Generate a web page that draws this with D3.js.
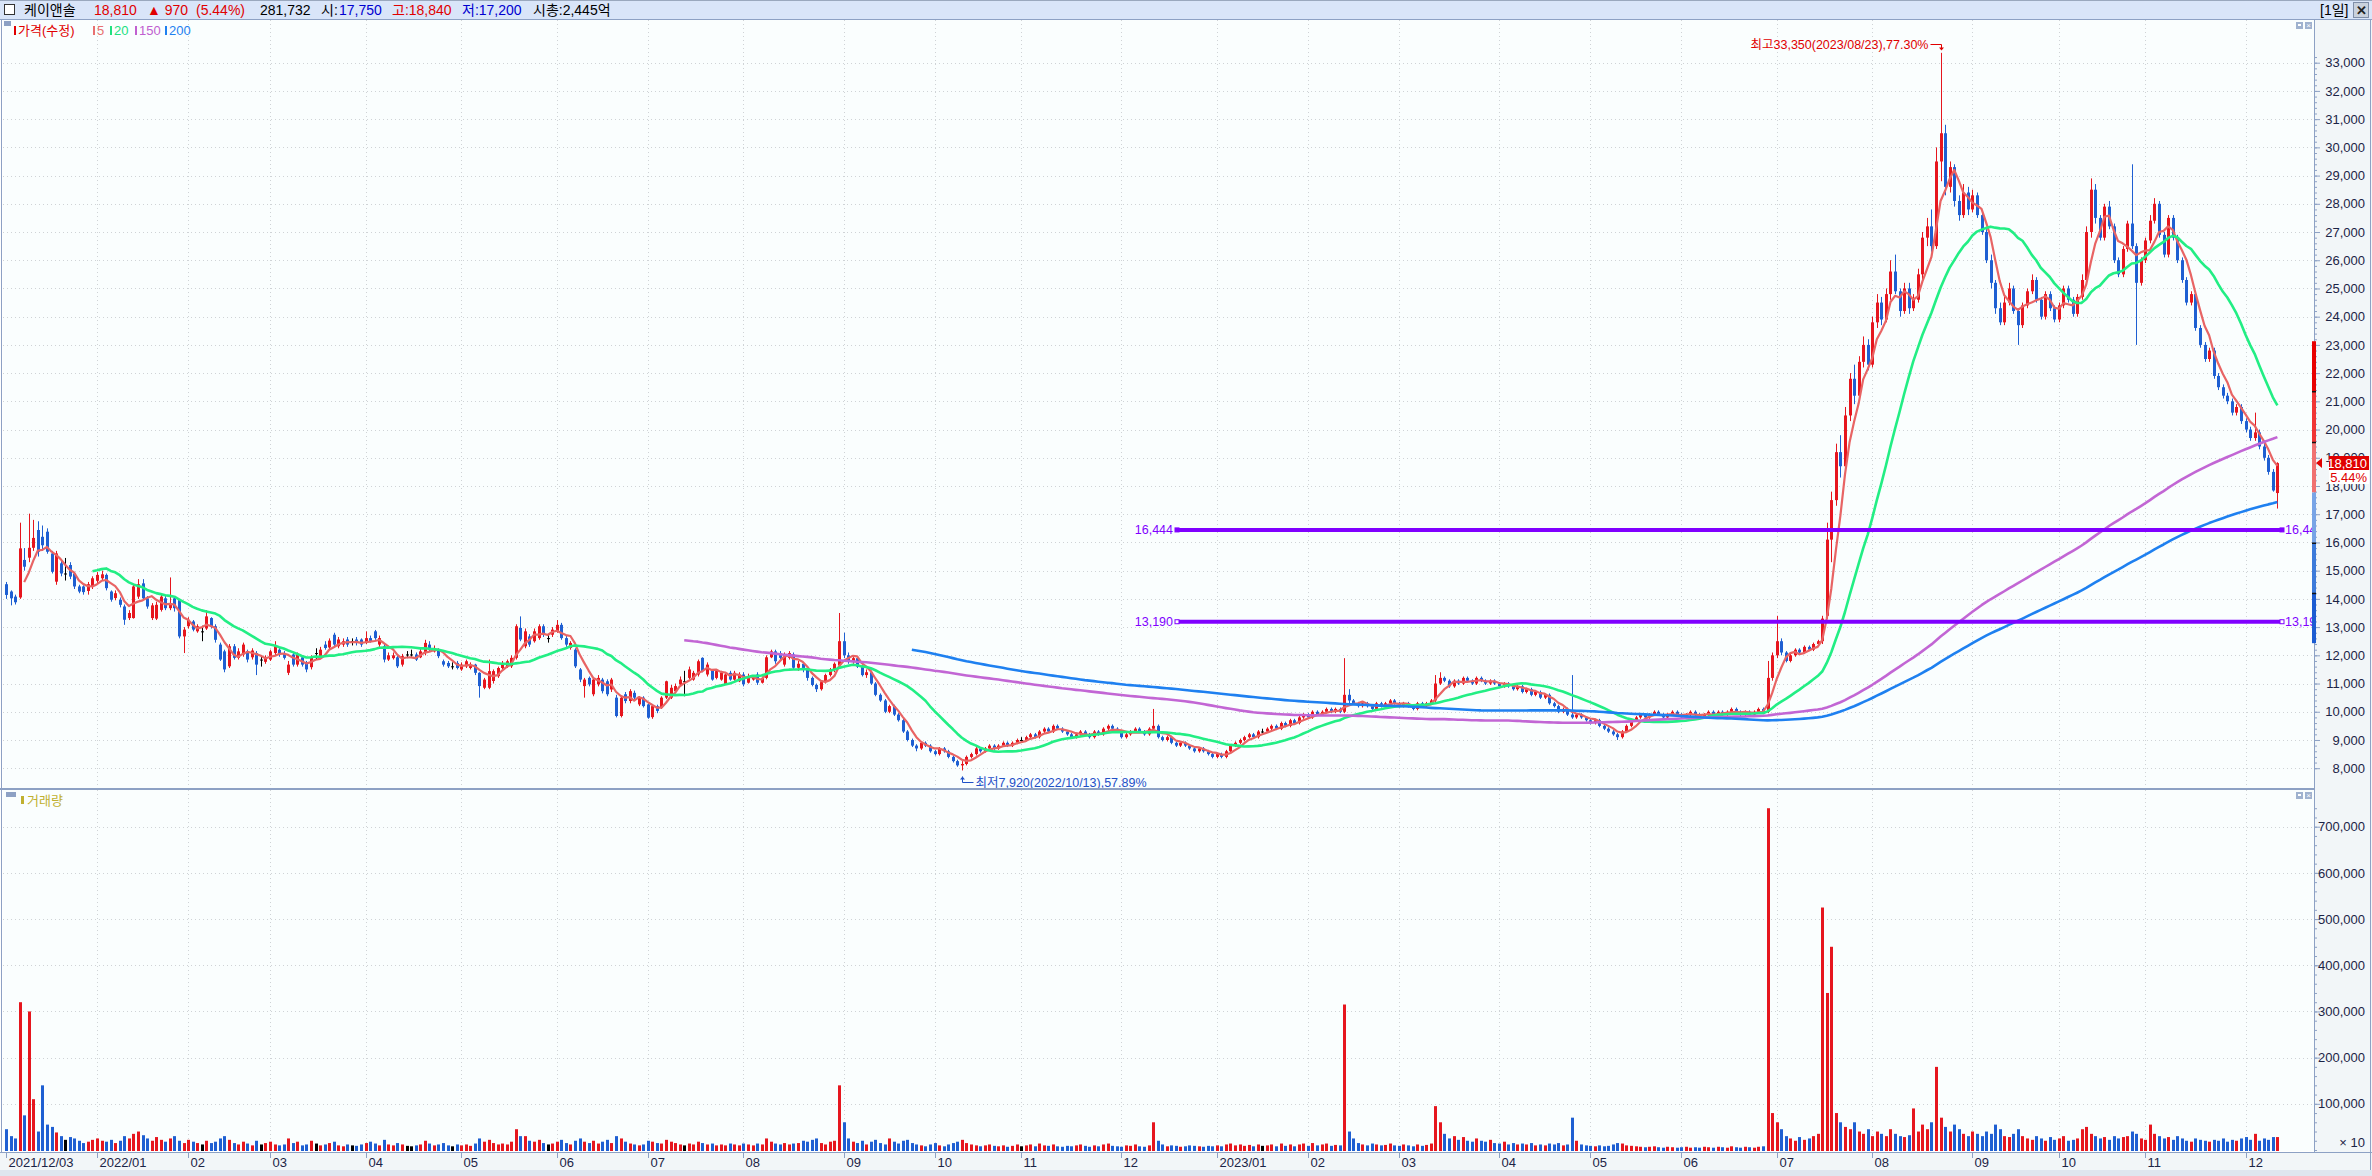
<!DOCTYPE html>
<html><head><meta charset="utf-8">
<script src="https://cdn.jsdelivr.net/npm/d3@7"></script>
<style>
body{margin:0;background:#fff;overflow:hidden}
svg{display:block}
text{font-family:"Liberation Sans","Noto Sans CJK KR",sans-serif}
</style></head><body>
<svg id="chart" width="2372" height="1176"></svg>
<script>
// ---------------- data ----------------
const monthTickIndex = [0,20,40,58,79,100,121,141,162,184,204,223,245,266,286,306,328,348,368,389,410,432,451,470,492];
const monthTickLabels = ["2021/12/03","2022/01","02","03","04","05","06","07","08","09","10","11","12","2023/01","02","03","04","05","06","07","08","09","10","11","12"];
const priceTicks = [8000,9000,10000,11000,12000,13000,14000,15000,16000,17000,18000,19000,20000,21000,22000,23000,24000,25000,26000,27000,28000,29000,30000,31000,32000,33000];
const volumeTicks = [100000,200000,300000,400000,500000,600000,700000];
const maPeriods = [5,20,150,200];
const maColors = ["#e86464","#22ee84","#c266d4","#1e80f0"];
const levelLines = [16444,13190];
const rangeBarPrices = [23130,21350,19550,17770,15980,14200,12430];
const rangeBarColors = ["#e80000","#f03434","#f07070","#78a4e6","#3c7ada","#1c5cd2"];

const opens = [
14520,14260,14080,14050,15380,15460,15810,16440,16200,16380,
15610,14610,15260,14900,15200,14900,14440,14440,14280,14440,
14640,14730,14850,14260,14030,13970,13730,13320,13320,14080,
14550,14020,13320,13300,13610,14020,13670,14020,13960,12670,
13030,13200,12850,12850,12950,13320,13030,12380,12140,11610,
12320,11910,12030,12140,11930,12080,11850,11770,11850,12080,
12200,12080,11380,12030,11670,11930,11730,11580,12080,11970,
12380,12280,12730,12320,12380,12560,12500,12560,12560,12440,
12610,12850,12380,12320,11850,11900,11930,11670,12030,12030,
12030,11930,12080,12380,12140,12200,11790,11730,11610,11730,
11500,11610,11550,11670,11380,10850,10850,11090,11260,11550,
11610,11610,11910,12970,12320,12670,12500,12610,13030,12610,
12730,12850,13080,12610,12260,12200,11500,10910,11200,10620,
10970,11140,11080,10790,10500,9850,10620,10380,10670,10260,
10500,10260,9810,10200,10140,10500,10500,10730,10970,11080,
11200,11140,11320,11910,11320,11460,11200,11140,10970,11380,
11140,11080,11320,11030,11140,11320,11030,11200,11930,12140,
12080,11670,11910,12030,
11560,11700,11480,11200,10950,10800,11050,11300,11500,11650,
12500,12000,11800,11900,11600,11300,11400,11000,10600,10400,
10000,10200,9900,9700,9300,9000,8800,8700,8900,8800,
8600,8500,8700,8600,8400,8250,8100,8150,8400,8500,
8700,8600,8700,8800,8700,8800,8900,8800,8900,9000,
9000,9100,9200,9100,9300,9400,9300,9500,9400,9300,
9200,9100,9200,9300,9200,9100,9300,9200,9400,9500,
9400,9300,9100,9200,9300,9400,9300,9200,9400,9500,
9100,9000,9100,8900,8800,8900,8800,8700,8600,8700,
8600,8500,8400,8500,8400,8600,8800,8900,9000,9100,
9200,9100,9300,9300,9400,9500,9400,9600,9500,9700,
9600,9800,9900,9800,10000,9900,10000,10100,10000,10100,
10000,10600,10400,10300,10200,10300,10200,10100,10300,10200,
10300,10400,10300,10200,10300,10200,10100,10300,10200,10300,
10400,11000,11200,11100,10900,11100,11000,11200,11100,11000,
11200,11100,11000,11100,11000,10900,11000,10900,10800,10900,
10700,10800,10600,10700,10500,10600,10300,10200,10000,10100,
9900,9800,9900,9800,9700,9600,9700,9500,9400,9300,
9200,9100,9300,9500,9700,9800,9900,9800,9900,10000,
9900,9800,9900,10000,9900,9800,9900,10000,9900,9800,
9900,10000,9900,10000,9900,10000,10100,10000,9900,10000,
9900,10000,10100,10000,11200,12000,12500,12100,11800,12000,
12200,12100,12300,12200,12400,12500,13400,16100,17500,19200,
18700,20500,21800,21200,22400,23000,22300,23800,24500,23900,
24800,25600,24900,24200,25000,24300,24600,25500,26800,27200,
26500,29500,30500,28600,29300,28100,27600,28400,27800,28300,
27600,27000,26000,25200,24300,23800,24500,25000,24200,23700,
24400,24900,25300,24600,24000,24800,24300,23900,24400,25000,
24600,24100,24700,25300,27000,28500,27500,26800,27900,27200,
26000,25500,26400,27300,26500,25200,26000,26700,27400,28000,
26900,26200,27500,26800,26000,25300,24500,24800,23600,23000,
22500,22800,21900,21500,21200,21000,20600,20800,20300,20000,
19700,19900,19400,19000,18500,17750];

const highs = [
14600,14300,14150,16700,15800,17020,16800,16750,16600,16500,
15700,15700,15350,15450,15300,14950,14500,14480,14600,14800,
14950,15000,14900,14300,14300,14050,13800,13600,14520,14700,
14700,14100,13850,13900,14150,14100,14760,14100,14000,13000,
13350,13250,13100,13050,13600,13350,13100,12450,12200,12400,
12400,12250,12450,12200,12250,12150,12000,12000,12200,12500,
12300,12150,11800,12100,12100,12000,11800,12000,12250,12300,
12500,12600,12800,12650,12600,12650,12600,12650,12600,12850,
12700,12900,12700,12400,12100,12100,12000,12050,12150,12200,
12100,12250,12550,12500,12350,12250,11850,11800,11750,11800,
11750,11850,11750,11700,11400,11200,11850,11500,11600,11800,
11850,12000,13100,13380,12950,12750,12950,13100,13100,12750,
13000,13250,13150,12700,12500,12250,11550,11200,11250,11200,
11300,11200,11150,11200,10600,10550,10700,10800,10750,10550,
10550,10300,10250,10250,10550,11100,10950,11000,11250,11450,
11600,11450,11850,11930,11750,11500,11500,11450,11400,11450,
11450,11400,11400,11350,11300,11400,11250,12000,12200,12200,
12150,12100,12150,12100,
11800,11750,11550,11250,11000,11100,11350,11550,11750,13500,
12800,12100,12000,11950,11650,11500,11450,11050,10650,10450,
10250,10250,9950,9750,9350,9050,8850,8950,8950,8850,
8650,8750,8750,8650,8450,8300,8250,8450,8550,8750,
8750,8750,8850,8850,8850,8950,8950,8950,9050,9100,
9150,9250,9250,9350,9450,9450,9550,9550,9450,9350,
9250,9250,9350,9350,9250,9350,9350,9450,9550,9550,
9450,9350,9250,9350,9450,9450,9350,9450,10100,9550,
9150,9150,9150,8950,8950,8950,8850,8750,8750,8750,
8650,8550,8550,8550,8650,8850,8950,9050,9150,9250,
9250,9350,9400,9450,9550,9550,9650,9650,9750,9750,
9850,9950,9950,10050,10050,10050,10150,10150,10150,10150,
11900,10800,10450,10350,10350,10350,10250,10350,10350,10350,
10450,10450,10350,10350,10350,10250,10350,10350,10350,10450,
11300,11400,11250,11150,11150,11150,11250,11250,11150,11250,
11250,11150,11150,11150,11050,11050,11050,10950,10950,10950,
10850,10850,10750,10750,10650,10650,10350,10250,10150,10150,
11300,9950,9950,9850,9750,9750,9750,9550,9450,9350,
9250,9350,9550,9750,9850,9950,9950,9950,10050,10050,
9950,9950,10050,10050,9950,9950,10050,10050,9950,9950,
10050,10050,10050,10050,10050,10150,10150,10050,10050,10050,
10050,10150,10150,11800,12100,13400,12600,12150,12050,12250,
12250,12350,12350,12450,12550,13400,16700,17800,19500,19800,
20800,22000,22300,22600,23300,23200,24000,24800,24700,25000,
26000,26200,25000,25200,25200,24800,25700,27000,27500,27800,
30000,33350,30800,29500,29400,28300,28700,28600,28500,28400,
27700,27100,26200,25300,24500,24700,25200,25100,24300,24500,
25000,25500,25400,24700,24900,24900,24400,24500,25100,25100,
24700,24800,25500,27200,28900,28700,27600,28000,28100,27300,
26100,26500,27400,29400,26600,26100,26800,27600,28200,28100,
27000,27600,27600,26900,26100,25400,24900,24900,23700,23100,
22900,22900,22000,21600,21300,21100,20900,20900,20400,20100,
20600,20000,19500,19100,18600,18840];

const lows = [
14000,13770,13800,14000,15000,15300,15700,15500,15700,15600,
14900,14500,14800,14650,14700,14350,14200,14150,14150,14350,
14550,14650,14300,13900,13950,13700,13080,13250,13300,14000,
13950,13650,13250,13250,13550,13600,13600,13550,12600,12080,
12950,12850,12800,12500,12900,12950,12450,11800,11400,11550,
11850,11850,11950,11750,11850,11300,11600,11700,11800,12000,
11950,11850,11300,11600,11600,11600,11400,11500,11850,11900,
12200,12200,12300,12250,12300,12300,12350,12350,12300,12400,
12450,12550,12300,11750,11800,11850,11550,11600,11900,11950,
11800,11900,12000,12150,12100,11900,11600,11550,11500,11500,
11450,11550,11500,11300,10500,10800,10800,11000,11200,11500,
11550,11550,11850,12500,12250,12300,12450,12550,12650,12450,
12650,12800,12550,12300,12200,11550,11050,10500,10900,10550,
10900,10650,10550,10700,9800,9800,10300,10300,10450,10200,
10150,9750,9750,9950,10100,10450,10450,10650,10900,10550,
11150,11100,11250,11400,11250,11100,11150,11100,10950,11100,
11100,11050,10900,11000,11100,10950,11000,11150,11900,11700,
11850,11600,11850,11500,
11450,11400,11100,10900,10700,10750,11000,11250,11400,11600,
11900,11700,11700,11550,11250,11200,10950,10550,10350,9950,
9950,9850,9650,9250,8950,8750,8600,8650,8750,8550,
8450,8450,8550,8350,8200,8050,7920,8100,8350,8450,
8550,8550,8650,8650,8650,8750,8750,8750,8850,8900,
8950,9050,9050,9050,9250,9250,9250,9350,9250,9150,
9050,9050,9150,9150,9050,9050,9150,9150,9350,9350,
9250,9050,9050,9150,9250,9250,9150,9150,9350,9050,
8950,8950,8850,8750,8750,8750,8650,8550,8550,8550,
8450,8350,8350,8350,8350,8550,8750,8850,8950,9050,
9050,9050,9250,9250,9350,9350,9350,9450,9450,9550,
9550,9750,9750,9750,9850,9850,9950,9950,9950,9950,
9950,10300,10250,10150,10150,10150,10050,10050,10150,10150,
10250,10250,10150,10150,10150,10050,10050,10150,10150,10250,
10350,10950,11050,10850,10850,10950,10950,11050,10950,10950,
11050,10950,10950,10950,10850,10850,10850,10750,10750,10650,
10650,10550,10550,10450,10450,10250,10150,9950,9950,9850,
9750,9750,9750,9650,9550,9550,9450,9350,9250,9150,
9000,9050,9250,9450,9650,9750,9750,9750,9850,9850,
9750,9750,9850,9850,9750,9750,9850,9850,9750,9750,
9850,9850,9850,9850,9850,9950,9950,9850,9850,9850,
9850,9950,9950,9950,11100,11900,12000,11750,11750,11950,
12050,12050,12150,12150,12350,12400,13300,15300,17300,18300,
18600,20300,20900,21000,22200,22100,22200,23600,23700,23800,
24600,24800,24000,24100,24100,24200,24500,25300,26500,26300,
26400,28800,28300,28400,27900,27400,27500,27600,27700,27500,
26900,25900,25000,24100,23700,23700,24400,24100,23000,23600,
24300,24800,24500,23900,23900,24200,23800,23800,24300,24500,
24000,24000,24600,25200,26800,27300,26700,26700,27100,25900,
25400,25400,26300,26400,23000,25100,25900,26600,27300,26800,
26100,26100,26700,25900,25200,24400,24400,23500,22900,22400,
22400,21800,21400,21100,20900,20500,20500,20200,19900,19600,
19600,19300,18900,18400,17800,17200];

const closes = [
14140,14020,13880,15790,15140,15810,16160,15670,15900,15670,
14960,15610,14900,14900,14790,14440,14260,14240,14520,14730,
14850,14870,14380,13970,14200,13790,13260,13500,14440,14520,
14020,13730,13770,13790,14080,13670,13790,13670,12670,12910,
13260,12910,13030,12850,13380,13030,12550,11850,11500,12320,
11910,12140,12380,11850,12170,11670,11850,11910,12140,12320,
12030,11910,11670,11670,12030,11670,11500,11930,12080,12200,
12260,12520,12380,12560,12500,12380,12500,12440,12380,12610,
12500,12610,12610,11850,12000,12000,11610,11970,12030,12030,
11850,12140,12440,12200,12260,11970,11670,11610,11610,11550,
11670,11790,11670,11380,10910,11140,11440,11440,11550,11730,
11790,11910,13030,12560,12850,12380,12850,13030,12730,12610,
12910,13080,12610,12380,12440,11610,11140,11140,10970,11140,
11200,10730,10620,11140,9850,10500,10380,10730,10500,10500,
10200,9790,10200,10030,10500,11080,10850,10910,11140,11080,
11500,11380,11790,11440,11670,11140,11440,11380,11320,11140,
11380,11320,10970,11260,11260,11030,11200,11930,12140,11790,
11910,12030,12080,11560,
11700,11480,11200,10950,10800,11050,11300,11500,11700,12500,
12000,11800,11900,11600,11300,11400,11000,10600,10400,10000,
10200,9900,9700,9300,9000,8800,8700,8900,8800,8600,
8500,8700,8600,8400,8250,8100,8150,8400,8500,8700,
8600,8700,8800,8700,8800,8900,8800,8900,9000,9000,
9100,9200,9100,9300,9400,9300,9500,9400,9300,9200,
9100,9200,9300,9200,9100,9300,9200,9400,9500,9400,
9300,9100,9200,9300,9400,9300,9200,9400,9500,9100,
9000,9100,8900,8800,8900,8800,8700,8600,8700,8600,
8500,8400,8500,8400,8600,8800,8900,9000,9100,9200,
9100,9300,9300,9400,9500,9400,9600,9500,9700,9600,
9800,9900,9800,10000,9900,10000,10100,10000,10100,10000,
10600,10400,10300,10200,10300,10200,10100,10300,10200,10300,
10400,10300,10200,10300,10200,10100,10300,10200,10300,10400,
11000,11200,11100,10900,11100,11000,11200,11100,11000,11200,
11100,11000,11100,11000,10900,11000,10900,10800,10900,10700,
10800,10600,10700,10500,10600,10300,10200,10000,10100,9900,
9800,9900,9800,9700,9600,9700,9500,9400,9300,9200,
9100,9300,9500,9700,9800,9900,9800,9900,10000,9900,
9800,9900,10000,9900,9800,9900,10000,9900,9800,9900,
10000,9900,10000,9900,10000,10100,10000,9900,10000,9900,
10000,10100,10000,11200,12000,12500,12100,11800,12000,12200,
12100,12300,12200,12400,12500,13300,16100,17500,19200,18700,
20500,21800,21200,22400,23000,22300,23800,24500,23900,24800,
25600,24900,24200,25000,24300,24600,25500,26800,27200,26500,
29500,30500,28600,29300,28100,27600,28400,27800,28300,27600,
27000,26000,25200,24300,23800,24500,25000,24200,23700,24400,
24900,25300,24600,24000,24800,24300,23900,24400,25000,24600,
24100,24700,25300,27000,28500,27500,26800,27900,27200,26000,
25500,26400,27300,26500,25200,26000,26700,27400,28000,26900,
26200,27500,26800,26000,25300,24500,24800,23600,23000,22500,
22800,21900,21500,21200,21000,20600,20800,20300,20000,19700,
19900,19400,19000,18500,17840,18810];

const volumes = [
45000,30000,25000,320000,75000,300000,110000,40000,140000,55000,
50000,38000,30000,22000,28000,25000,20000,15000,18000,22000,
25000,20000,18000,22000,15000,20000,30000,25000,35000,40000,
32000,25000,20000,28000,22000,18000,25000,30000,20000,15000,
22000,18000,15000,12000,20000,15000,18000,25000,30000,22000,
15000,12000,18000,14000,10000,20000,12000,15000,18000,12000,
10000,12000,25000,15000,18000,10000,12000,20000,14000,10000,
12000,15000,18000,10000,8000,12000,10000,9000,12000,15000,
18000,14000,10000,22000,12000,10000,15000,12000,9000,8000,
10000,12000,20000,14000,10000,12000,15000,10000,8000,12000,
10000,12000,9000,14000,25000,18000,22000,15000,12000,14000,
12000,18000,45000,30000,30000,20000,18000,22000,15000,12000,
14000,18000,22000,15000,12000,20000,25000,18000,15000,20000,
14000,18000,22000,15000,30000,25000,18000,14000,12000,10000,
12000,20000,18000,15000,14000,22000,18000,15000,12000,10000,
14000,12000,18000,15000,12000,14000,10000,12000,10000,14000,
12000,10000,14000,12000,10000,14000,12000,25000,18000,14000,
12000,15000,12000,14000,
15000,20000,18000,22000,25000,15000,12000,18000,20000,140000,
60000,25000,18000,15000,20000,12000,18000,22000,15000,12000,
25000,18000,14000,20000,22000,15000,12000,10000,8000,12000,
15000,10000,8000,12000,15000,18000,22000,15000,12000,10000,
8000,10000,12000,9000,8000,10000,7000,9000,12000,8000,
10000,12000,8000,14000,10000,9000,12000,8000,7000,9000,
8000,10000,12000,9000,7000,10000,8000,12000,14000,9000,
8000,7000,10000,9000,12000,8000,7000,10000,60000,20000,
12000,8000,10000,9000,7000,8000,10000,9000,8000,7000,
9000,8000,10000,8000,12000,14000,10000,12000,9000,11000,
8000,12000,9000,10000,12000,8000,14000,9000,12000,8000,
12000,14000,9000,15000,10000,12000,14000,9000,11000,10000,
315000,40000,25000,15000,12000,10000,14000,12000,10000,11000,
14000,10000,9000,12000,10000,8000,12000,9000,11000,14000,
95000,60000,35000,25000,30000,22000,28000,20000,18000,25000,
20000,18000,22000,15000,14000,18000,12000,15000,12000,14000,
12000,15000,10000,12000,10000,14000,12000,15000,10000,12000,
70000,20000,12000,10000,9000,8000,10000,8000,9000,12000,
15000,14000,10000,9000,8000,7000,6000,7000,8000,6000,
5000,7000,6000,5000,6000,7000,5000,6000,5000,7000,
6000,5000,7000,6000,5000,8000,6000,5000,7000,6000,
5000,7000,8000,740000,80000,60000,45000,30000,25000,20000,
28000,22000,25000,30000,35000,525000,340000,440000,80000,60000,
50000,45000,60000,40000,35000,45000,30000,40000,35000,30000,
45000,35000,30000,28000,32000,90000,40000,55000,45000,60000,
180000,70000,50000,40000,55000,45000,35000,30000,40000,35000,
30000,40000,35000,55000,45000,30000,28000,35000,45000,30000,
25000,22000,30000,25000,20000,28000,22000,25000,30000,20000,
22000,25000,45000,50000,35000,30000,25000,28000,22000,30000,
25000,28000,30000,40000,35000,25000,22000,55000,35000,30000,
25000,28000,22000,30000,25000,20000,18000,25000,22000,20000,
18000,22000,20000,25000,18000,22000,20000,25000,28000,22000,
35000,20000,25000,22000,28000,28000];

// ---------------- layout ----------------
const W = 2372, H = 1176;
const L = 3, R = 2314;
const PT = 20, PB = 788, VT = 790, VB = 1151;
const N = closes.length;

const svg = d3.select("#chart");
const x = d3.scaleLinear().domain([0, 499]).range([6, 2277.4]);
const yP = d3.scaleLinear().domain([8000, 33000]).range([768.2, 62.7]);
const yV = d3.scaleLinear().domain([0, 700000]).range([1150, 826.7]);

const UP = "#e6161e", DOWN = "#1e5fd2", FLAT = "#000000";
const colorOf = i => closes[i] > opens[i] ? UP : (closes[i] < opens[i] ? DOWN : FLAT);

// backgrounds
svg.append("rect").attr("width", W).attr("height", H).attr("fill", "#ffffff");
svg.append("rect").attr("x", 0).attr("y", 0).attr("width", W).attr("height", 20).attr("fill", "#d9e5f9");
svg.append("line").attr("x1", 0).attr("x2", W).attr("y1", 0.5).attr("y2", 0.5).attr("stroke", "#9aa8be");
svg.append("line").attr("x1", 0).attr("x2", W).attr("y1", 19.5).attr("y2", 19.5).attr("stroke", "#8da1c4");
svg.append("rect").attr("x", L).attr("y", PT).attr("width", R - L).attr("height", PB - PT).attr("fill", "#fafefe");
svg.append("rect").attr("x", L).attr("y", VT).attr("width", R - L).attr("height", VB - VT).attr("fill", "#fafefe");
svg.append("rect").attr("x", R + 1).attr("y", PT).attr("width", W - R - 1).attr("height", 1152 - PT).attr("fill", "#f2f6f8");
svg.append("rect").attr("x", 0).attr("y", 1152).attr("width", W).attr("height", 24).attr("fill", "#f2f6f8");
svg.append("rect").attr("x", 0).attr("y", 1170).attr("width", W).attr("height", 6).attr("fill", "#dfe6ef");

const defs = svg.append("defs");
defs.append("clipPath").attr("id", "clipP").append("rect").attr("x", L).attr("y", PT).attr("width", R - L).attr("height", PB - PT);
defs.append("clipPath").attr("id", "clipV").append("rect").attr("x", L).attr("y", VT).attr("width", R - L).attr("height", VB - VT);

// grid
const grid = svg.append("g").attr("stroke", "#cfd3d6").attr("stroke-dasharray", "1,3").attr("stroke-width", 1);
priceTicks.forEach(p => grid.append("line").attr("x1", L).attr("x2", R).attr("y1", Math.round(yP(p)) + 0.5).attr("y2", Math.round(yP(p)) + 0.5));
volumeTicks.forEach(v => grid.append("line").attr("x1", L).attr("x2", R).attr("y1", Math.round(yV(v)) + 0.5).attr("y2", Math.round(yV(v)) + 0.5));
monthTickIndex.slice(1).forEach(i => {
  const xx = Math.round(x(i)) + 0.5;
  grid.append("line").attr("x1", xx).attr("x2", xx).attr("y1", PT).attr("y2", PB);
  grid.append("line").attr("x1", xx).attr("x2", xx).attr("y1", VT).attr("y2", VB);
});

// price panel
const gp = svg.append("g").attr("clip-path", "url(#clipP)");
const idx = d3.range(N);
gp.append("g").selectAll("line").data(idx).join("line")
  .attr("x1", i => Math.round(x(i)) + 0.5).attr("x2", i => Math.round(x(i)) + 0.5)
  .attr("y1", i => yP(highs[i])).attr("y2", i => yP(lows[i]))
  .attr("stroke", colorOf).attr("stroke-width", 1);
gp.append("g").selectAll("rect").data(idx).join("rect")
  .attr("x", i => Math.round(x(i)) - 1).attr("width", 3)
  .attr("y", i => yP(Math.max(opens[i], closes[i])))
  .attr("height", i => Math.max(1, Math.abs(yP(opens[i]) - yP(closes[i]))))
  .attr("fill", colorOf);

// moving averages
maPeriods.forEach((p, k) => {
  const ma = closes.map((c, i) => i < p - 1 ? null : d3.mean(closes.slice(i - p + 1, i + 1)));
  const line = d3.line().defined(d => d != null).x((d, i) => x(i)).y(d => yP(d));
  gp.append("path").attr("d", line(ma)).attr("fill", "none")
    .attr("stroke", maColors[k]).attr("stroke-width", k === 0 ? 2.2 : 2.6).attr("stroke-linejoin", "round");
});

// level lines
const lvX1 = 1177, lvX2 = 2282;
levelLines.forEach((v, k) => {
  const yy = yP(v);
  gp.append("line").attr("x1", lvX1).attr("x2", lvX2).attr("y1", yy).attr("y2", yy).attr("stroke", "#8000ff").attr("stroke-width", 4);
  [lvX1 - 2, lvX2 - 2].forEach(xx => gp.append("rect").attr("x", xx).attr("y", yy - 2).attr("width", 4).attr("height", 4)
    .attr("fill", k === 0 ? "#8000ff" : "#ffffff").attr("stroke", "#8000ff").attr("stroke-width", 1));
  const lab = d3.format(",")(v);
  gp.append("text").attr("x", lvX1 - 4).attr("y", yy + 4).attr("text-anchor", "end").attr("font-size", 12.5).attr("fill", "#8000ff").text(lab);
  gp.append("text").attr("x", lvX2 + 3).attr("y", yy + 4).attr("font-size", 12.5).attr("fill", "#8000ff").text(lab);
});

// high / low annotations
const hiIdx = highs.indexOf(d3.max(highs)), loIdx = lows.indexOf(d3.min(lows));
{
  const hx = Math.round(x(hiIdx)) + 0.5, hy = Math.round(yP(highs[hiIdx]) - 9) + 0.5;
  gp.append("text").attr("x", hx - 13).attr("y", hy + 4.5).attr("text-anchor", "end").attr("font-size", 12.5).attr("fill", "#e00000")
    .text("최고" + d3.format(",")(highs[hiIdx]) + "(2023/08/23),77.30%");
  gp.append("path").attr("d", `M${hx - 11},${hy}H${hx}V${hy + 5}`).attr("fill", "none").attr("stroke", "#e00000");
  gp.append("path").attr("d", `M${hx - 2.5},${hy + 3}L${hx + 2.5},${hy + 3}L${hx},${hy + 6}Z`).attr("fill", "#e00000");
  const lx = Math.round(x(loIdx)) + 0.5, ly = Math.round(yP(lows[loIdx]) + 12) + 0.5;
  gp.append("text").attr("x", lx + 13).attr("y", ly + 4.5).attr("font-size", 12.5).attr("fill", "#1e50c8")
    .text("최저" + d3.format(",")(lows[loIdx]) + "(2022/10/13),57.89%");
  gp.append("path").attr("d", `M${lx},${ly - 6}V${ly}H${lx + 11}`).attr("fill", "none").attr("stroke", "#1e50c8");
  gp.append("path").attr("d", `M${lx - 2.5},${ly - 3}L${lx + 2.5},${ly - 3}L${lx},${ly - 6}Z`).attr("fill", "#1e50c8");
}

// volume panel
const gv = svg.append("g").attr("clip-path", "url(#clipV)");
gv.selectAll("rect").data(idx).join("rect")
  .attr("x", i => Math.round(x(i)) - 1).attr("width", 3)
  .attr("y", i => yV(volumes[i])).attr("height", i => yV(0) - yV(volumes[i]) + 1)
  .attr("fill", colorOf);

// frame lines
const frame = svg.append("g").attr("stroke", "#8da1c4").attr("fill", "none");
frame.append("line").attr("x1", 1.5).attr("x2", 1.5).attr("y1", PT).attr("y2", 1152);
frame.append("line").attr("x1", R + 0.5).attr("x2", R + 0.5).attr("y1", PT).attr("y2", 1152);
frame.append("line").attr("x1", 0).attr("x2", R).attr("y1", 789).attr("y2", 789).attr("stroke-width", 2);
frame.append("line").attr("x1", 0).attr("x2", W).attr("y1", 1152.5).attr("y2", 1152.5);
frame.append("line").attr("x1", W - 1.5).attr("x2", W - 1.5).attr("y1", PT).attr("y2", 1170);

// price axis
const minorPrice = d3.range(8000, 33400, 200);
const axP = svg.append("g").attr("transform", `translate(${R},0)`)
  .call(d3.axisRight(yP).tickValues(priceTicks).tickFormat(d3.format(",")).tickSize(6).tickPadding(2));
axP.select(".domain").remove();
axP.selectAll("line").attr("stroke", "#8da1c4");
axP.selectAll("text").attr("x", 51).attr("text-anchor", "end").attr("font-size", 13).attr("fill", "#1c2446").attr("font-family", null);
const axPm = svg.append("g").attr("transform", `translate(${R},0)`)
  .call(d3.axisRight(yP).tickValues(minorPrice.filter(v => yP(v) > PT + 2)).tickFormat("").tickSize(3));
axPm.select(".domain").remove();
axPm.selectAll("line").attr("stroke", "#8da1c4");

// volume axis
const minorVol = d3.range(0, 760000, 20000);
const axV = svg.append("g").attr("transform", `translate(${R},0)`)
  .call(d3.axisRight(yV).tickValues(volumeTicks).tickFormat(d3.format(",")).tickSize(6).tickPadding(2));
axV.select(".domain").remove();
axV.selectAll("line").attr("stroke", "#8da1c4");
axV.selectAll("text").attr("x", 51).attr("text-anchor", "end").attr("font-size", 13).attr("fill", "#1c2446").attr("font-family", null);
const axVm = svg.append("g").attr("transform", `translate(${R},0)`)
  .call(d3.axisRight(yV).tickValues(minorVol.filter(v => yV(v) > VT + 2)).tickFormat("").tickSize(3));
axVm.select(".domain").remove();
axVm.selectAll("line").attr("stroke", "#8da1c4");
svg.append("text").attr("x", 2365).attr("y", 1147).attr("text-anchor", "end").attr("font-size", 13).attr("fill", "#1c2446").text("× 10");

// x axis
const axX = svg.append("g").attr("transform", "translate(0,1152)")
  .call(d3.axisBottom(x).tickValues(monthTickIndex).tickFormat((d, k) => monthTickLabels[k]).tickSize(6).tickPadding(0));
axX.select(".domain").remove();
axX.selectAll(".tick").attr("transform", d => `translate(${Math.round(x(d)) + 0.5},0)`);
axX.selectAll("line").attr("stroke", "#8da1c4");
axX.selectAll("text").attr("x", 2).attr("y", 6).attr("dy", "0.71em").attr("text-anchor", "start")
  .attr("font-size", 13).attr("fill", "#1c2446").attr("font-family", null);

// range bar on price axis
for (let k = 0; k < rangeBarColors.length; k++) {
  const y1 = yP(rangeBarPrices[k]), y2 = yP(rangeBarPrices[k + 1]);
  svg.append("rect").attr("x", R - 2).attr("y", y1).attr("width", 4).attr("height", y2 - y1).attr("fill", rangeBarColors[k]);
}
[1, 2, 4, 5].forEach(k => svg.append("rect").attr("x", R - 2).attr("y", yP(rangeBarPrices[k]) - 0.5).attr("width", 4).attr("height", 1.5).attr("fill", "#111"));

// last price tag (covers the neighbouring axis labels, as in the original)
{
  const last = closes[N - 1], ty = Math.round(yP(last));
  svg.append("path").attr("d", `M${R + 2},${ty}L${R + 8},${ty - 5}L${R + 8},${ty + 5}Z`).attr("fill", "#e00000");
  svg.append("rect").attr("x", 2329).attr("y", ty - 7).attr("width", 40).attr("height", 14).attr("fill", "#e00000");
  svg.append("text").attr("x", 2367).attr("y", ty + 4.5).attr("text-anchor", "end").attr("font-size", 13).attr("fill", "#ffffff").text(d3.format(",")(last));
  svg.append("rect").attr("x", 2329).attr("y", ty + 7).attr("width", 40).attr("height", 14).attr("fill", "#ffffff");
  svg.append("text").attr("x", 2367).attr("y", ty + 18.5).attr("text-anchor", "end").attr("font-size", 13).attr("fill", "#e00000").text("5.44%");
}

// panel icons
[[2296, 22], [2296, 792]].forEach(([ix, iy]) => {
  svg.append("rect").attr("x", ix).attr("y", iy).attr("width", 7).attr("height", 7).attr("fill", "#9fb2cf");
  svg.append("rect").attr("x", ix + 2).attr("y", iy + 2).attr("width", 3).attr("height", 2).attr("fill", "#ffffff");
  svg.append("rect").attr("x", ix + 9).attr("y", iy).attr("width", 7).attr("height", 7).attr("fill", "#9fb2cf");
  svg.append("text").attr("x", ix + 12.5).attr("y", iy + 6).attr("text-anchor", "middle").attr("font-size", 8).attr("fill", "#fff").text("×");
});

// legends
svg.append("rect").attr("x", 4).attr("y", 21).attr("width", 7).attr("height", 5).attr("fill", "#8da1c4");
const legendItems = [
  {x: 14, label: "가격(수정)", color: "#e00000"},
  {x: 93, label: "5", color: "#e87070"},
  {x: 110, label: "20", color: "#20e080"},
  {x: 135, label: "150", color: "#c060d0"},
  {x: 165, label: "200", color: "#1e80f0"}
];
legendItems.forEach(it => {
  svg.append("rect").attr("x", it.x).attr("y", 26).attr("width", 2).attr("height", 9).attr("fill", it.color);
  svg.append("text").attr("x", it.x + 4).attr("y", 35).attr("font-size", 13).attr("fill", it.color).text(it.label);
});
svg.append("rect").attr("x", 6).attr("y", 792).attr("width", 10).attr("height", 5).attr("fill", "#8da1c4");
svg.append("rect").attr("x", 21).attr("y", 796).attr("width", 3).attr("height", 8).attr("fill", "#c0b030");
svg.append("text").attr("x", 27).attr("y", 805).attr("font-size", 13).attr("fill", "#c0b030").text("거래량");

// header
svg.append("rect").attr("x", 4.5).attr("y", 4.5).attr("width", 10).attr("height", 10).attr("fill", "#fff").attr("stroke", "#333");
const headerItems = [
  {x: 24, t: "케이앤솔", c: "#000"},
  {x: 94, t: "18,810", c: "#e00000"},
  {x: 147, t: "▲ 970", c: "#e00000"},
  {x: 196, t: "(5.44%)", c: "#e00000"},
  {x: 260, t: "281,732", c: "#000"},
  {x: 321, t: "시:", c: "#000"},
  {x: 339, t: "17,750", c: "#0000d0"},
  {x: 392, t: "고:18,840", c: "#e00000"},
  {x: 462, t: "저:17,200", c: "#0000d0"},
  {x: 533, t: "시총:2,445억", c: "#000"}
];
headerItems.forEach(h => svg.append("text").attr("x", h.x).attr("y", 15).attr("font-size", 14).attr("fill", h.c).text(h.t));
svg.append("text").attr("x", 2320).attr("y", 15).attr("font-size", 14).attr("fill", "#000").text("[1일]");
svg.append("rect").attr("x", 2353.5).attr("y", 2.5).attr("width", 15).attr("height", 15).attr("fill", "#c9d1dd").attr("stroke", "#7f8ea8");
svg.append("text").attr("x", 2361).attr("y", 15).attr("text-anchor", "middle").attr("font-size", 13).attr("font-weight", "bold").attr("fill", "#222").text("✕");
</script>
</body></html>
